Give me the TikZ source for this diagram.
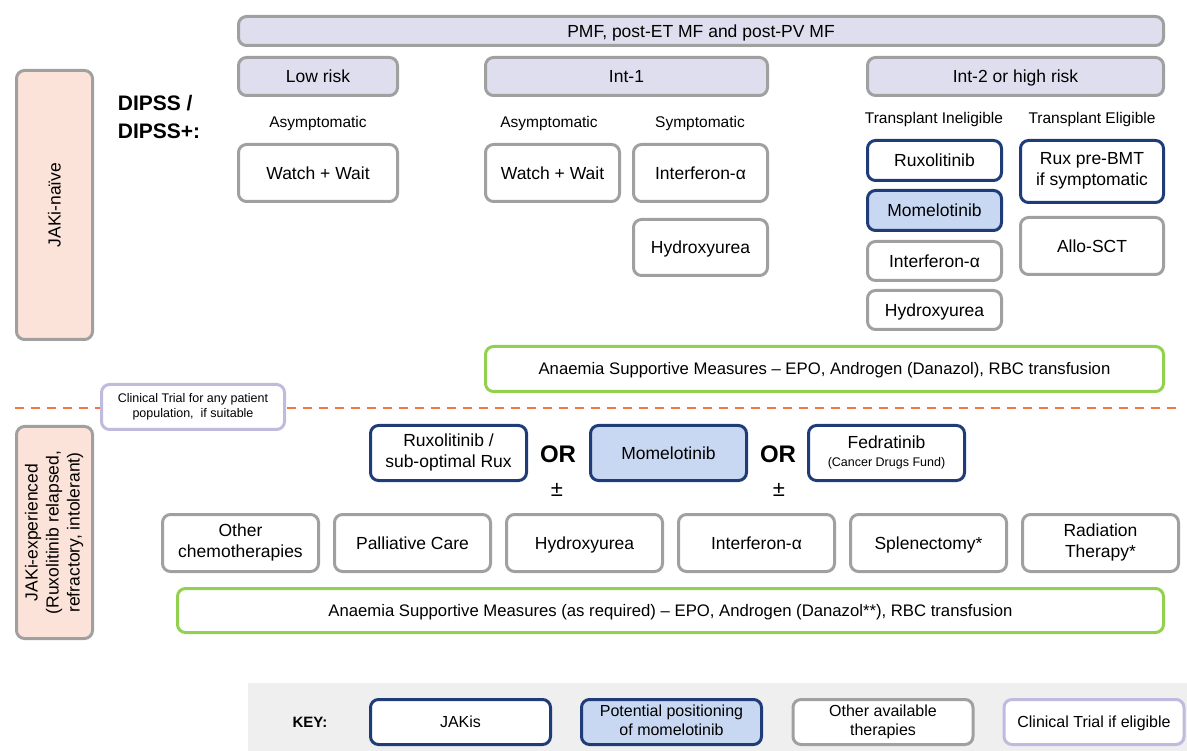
\documentclass[tikz,border=0pt]{standalone}
\usepackage{fontspec}
\setmainfont{Liberation Sans}
\usepackage{tikz}
\usetikzlibrary{calc}
\definecolor{boxgray}{HTML}{A0A0A0}
\definecolor{hdrfill}{HTML}{DFDEEE}
\definecolor{sidefill}{HTML}{FCE3D9}
\definecolor{jakblue}{HTML}{1F3C78}
\definecolor{momofill}{HTML}{C9D8F2}
\definecolor{anagreen}{HTML}{92D050}
\definecolor{triallav}{HTML}{BFBBDF}
\definecolor{linered}{HTML}{F57440}
\definecolor{keyband}{HTML}{EFEFEF}
\newcommand{\boxstrut}{\rule[-0.25em]{0pt}{1.2em}}
\tikzset{
  box/.style={draw=boxgray, line width=3pt, rounded corners=8pt, fill=white,
    align=center, inner sep=0pt, font=\fontsize{17.5}{21}\selectfont,
    execute at begin node=\boxstrut, execute at end node=\boxstrut},
  hdr/.style={box, fill=hdrfill},
  side/.style={box, fill=sidefill, rotate=90},
  jak/.style={box, draw=jakblue},
  momo/.style={jak, fill=momofill},
  anaemia/.style={box, draw=anagreen, font=\fontsize{16.7}{20}\selectfont},
  trialbox/.style={box, draw=triallav, font=\fontsize{12.5}{15}\selectfont},
  keybox/.style={font=\fontsize{16}{19}\selectfont, minimum width=180, minimum height=45},
  lbl/.style={font=\fontsize{15.5}{18}\selectfont},
  ortext/.style={font=\fontsize{24}{28}\selectfont\bfseries},
  pmtext/.style={font=\fontsize{22}{24}\selectfont},
}
\begin{document}
\begin{tikzpicture}[x=1pt, y=-1pt]
          \useasboundingbox (0,0) rectangle (1187,751);
          %cabecera
          \node[hdr, minimum width=925, minimum height=29] (pmf) at (701,31) {PMF, post-ET MF and post-PV MF};
          \node[hdr, minimum width=159, minimum height=38] (lowrisk) at (318,76.5) {Low risk};
          \node[hdr, minimum width=282, minimum height=38] (intone) at (626.5,76.5) {Int-1};
          \node[hdr, minimum width=296, minimum height=38] (inttwo) at (1015.5,76.5) {Int-2 or high risk};
          %lados
          \node[side, minimum width=269, minimum height=76] (naive) at (54.5,205) {JAKi-na\"ive};
          \node[side, minimum width=212, minimum height=76] (experienced) at (54.5,532.5) {JAKi-experienced\\(Ruxolitinib relapsed,\\refractory, intolerant)};
          \node[font=\fontsize{21}{28}\selectfont\bfseries, align=left] (dipss) at (159,117) {DIPSS /\\DIPSS+:};
          %etiquetas
          \node[lbl] (asymlow) at (318,123) {Asymptomatic};
          \node[lbl] (asymint) at (549,123) {Asymptomatic};
          \node[lbl] (symint) at (700,123) {Symptomatic};
          \node[lbl] (tinel) at (934,119) {Transplant Ineligible};
          \node[lbl] (telig) at (1092,119) {Transplant Eligible};
          %JAKi-naive
          \node[box, minimum width=159, minimum height=57] (wwlow) at (318,173) {Watch + Wait};
          \node[box, minimum width=134, minimum height=57] (wwint) at (552.5,173) {Watch + Wait};
          \node[box, minimum width=134, minimum height=57] (ifnint) at (700.5,173) {Interferon-α};
          \node[box, minimum width=134, minimum height=56] (huint) at (700.5,247.5) {Hydroxyurea};
          \node[jak, minimum width=134, minimum height=40] (ruxhi) at (934.5,160.5) {Ruxolitinib};
          \node[momo, minimum width=134, minimum height=40] (momohi) at (934.5,210.5) {Momelotinib};
          \node[box, minimum width=134, minimum height=39] (ifnhi) at (934.5,261) {Interferon-α};
          \node[box, minimum width=134, minimum height=39] (huhi) at (934.5,310) {Hydroxyurea};
          \node[jak, minimum width=143, minimum height=62] (ruxbmt) at (1092,171.5) {Rux pre-BMT\\if symptomatic};
          \node[box, minimum width=143, minimum height=57] (allosct) at (1092,246) {Allo-SCT};
          \node[anaemia, minimum width=678, minimum height=45] (ananaive) at (824.5,369) {Anaemia Supportive Measures -- EPO, Androgen (Danazol), RBC transfusion};
          %linea divisoria
          \coordinate (divl) at (15,408);
          \coordinate (divr) at (1180,408);
          \draw[linered, line width=2pt, dash pattern=on 9pt off 7pt] (divl) -- (divr);
          \node[trialbox, minimum width=183, minimum height=45] (trial) at (193,407) {Clinical Trial for any patient\\population, \ if suitable};
          %JAKi-experienced
          \node[jak, minimum width=156, minimum height=55] (ruxexp) at (448.5,453) {Ruxolitinib /\\sub-optimal Rux};
          \node[ortext] (orone) at (558,454) {OR};
          \node[pmtext] (pmone) at (557,490) {±};
          \node[momo, minimum width=156, minimum height=55] (momoexp) at (668.5,453) {Momelotinib};
          \node[ortext] (ortwo) at (778,454) {OR};
          \node[pmtext] (pmtwo) at (779,490) {±};
          \node[jak, minimum width=156, minimum height=55] (fedexp) at (886.5,453) {Fedratinib\\[-3pt]{\fontsize{12.5}{15}\selectfont (Cancer Drugs Fund)}};
          \node[box, minimum width=156, minimum height=57] (chemo) at (240.5,543) {Other\\chemotherapies};
          \node[box, minimum width=156, minimum height=57] (palliative) at (412.5,543) {Palliative Care};
          \node[box, minimum width=156, minimum height=57] (huexp) at (584.5,543) {Hydroxyurea};
          \node[box, minimum width=156, minimum height=57] (ifnexp) at (756.5,543) {Interferon-α};
          \node[box, minimum width=156, minimum height=57] (spleen) at (928.5,543) {Splenectomy*};
          \node[box, minimum width=156, minimum height=57] (radiation) at (1100.5,543) {Radiation\\Therapy*};
          \node[anaemia, minimum width=986, minimum height=44] (anaexp) at (670.5,610.5) {Anaemia Supportive Measures (as required) -- EPO, Androgen (Danazol**), RBC transfusion};
          %leyenda
          \fill[keyband] (248,683) rectangle (1187,751);
          \node[font=\fontsize{15}{18}\selectfont\bfseries] (key) at (310,722) {KEY:};
          \node[jak, keybox] (keyjak) at (460.5,722) {JAKis};
          \node[momo, keybox] (keymomo) at (671.5,722) {Potential positioning\\of momelotinib};
          \node[box, keybox] (keyother) at (883,722) {Other available\\therapies};
          \node[trialbox, keybox] (keytrial) at (1094,722) {Clinical Trial if eligible};
        \end{tikzpicture}
\end{document}
